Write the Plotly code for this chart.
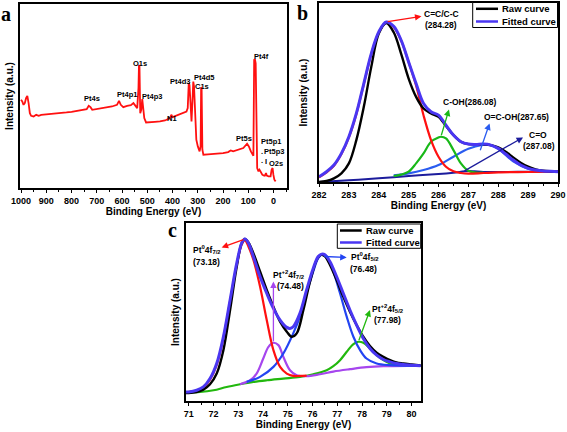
import plotly.graph_objects as go

# ---------------- Panel a: survey spectrum ----------------
a_be = [1000, 995, 990, 985, 980, 975, 970, 965, 960, 950, 940, 930, 920, 900, 880, 860, 840, 820, 800,
        780, 760, 740, 732, 725, 718, 700, 680, 660, 640, 620, 612, 605, 595, 580, 565, 555, 548, 540,
        535, 533, 531, 528, 524, 520, 517, 512, 505, 490, 470, 450, 430, 410, 405, 400, 380, 360, 345,
        340, 336, 333, 329, 325, 321, 318, 315, 311, 306, 300, 293, 289, 287, 285, 282, 278, 260, 240,
        220, 200, 180, 170, 160, 140, 120, 105, 98, 90, 84, 80, 77, 74, 71, 68, 65, 60, 56, 52, 45, 40,
        35, 30, 27, 20, 12, 8, 4, 1, -3, -8]
a_int = [265, 260, 250, 255, 270, 277, 255, 225, 217, 215, 220, 217, 220, 221, 222, 225, 225, 227, 229,
         231, 233, 237, 247, 243, 235, 237, 240, 243, 245, 250, 262, 250, 243, 247, 249, 255, 247, 240,
         300, 370, 365, 225, 235, 267, 245, 210, 197, 197, 199, 200, 203, 210, 220, 213, 220, 225, 230,
         240, 315, 310, 225, 200, 265, 320, 305, 225, 145, 125, 110, 125, 303, 300, 115, 100, 101, 102,
         103, 105, 108, 113, 110, 115, 120, 133, 125, 110, 100, 97, 385, 387, 375, 85, 60, 50, 55, 50,
         40, 38, 37, 45, 37, 35, 35, 55, 60, 40, 25, 20]
a_labels = ["O1s", "Pt4s", "Pt4p1", "Pt4p3", "N1", "Pt4d3", "Pt4d5", "C1s", "Pt4f", "Pt5s",
            "Pt5p1", "Pt5p3", "O2s", ".", ".", "I"]
a_label_be = [530, 718, 582, 481, 404, 372, 277, 283, 49, 119, 9, 0, -10, 47, 47, 29]
a_label_int = [375, 270, 280, 275, 208, 320, 332, 304, 395, 150, 140, 110, 75, 110, 83, 80]

# ---------------- Panel b: C1s ----------------
b_be = [282.0, 282.25, 282.5, 282.75, 283.0, 283.25, 283.5, 283.75, 284.0, 284.25, 284.5, 284.75,
        285.0, 285.25, 285.5, 285.75, 286.0, 286.25, 286.5, 286.75, 287.0, 287.25, 287.5, 287.75,
        288.0, 288.25, 288.5, 288.75, 289.0, 289.25, 289.5, 289.75, 290.0]
b_raw = [0, 3, 11, 26, 56, 126, 226, 346, 446, 478, 450, 385, 311, 256, 221, 206, 196, 168, 141, 121,
         114, 113, 113, 111, 104, 91, 74, 58, 46, 38, 34, 32, 31]
b_fit = [16, 31, 51, 86, 136, 206, 296, 386, 451, 481, 468, 426, 361, 296, 236, 211, 201, 171, 141, 121,
         114, 113, 114, 111, 101, 84, 66, 51, 41, 36, 33, 32, 31]
b_cc_be = [282.0, 282.25, 282.5, 282.75, 283.0, 283.25, 283.5, 283.75, 284.0, 284.25, 284.5, 284.75,
           285.0, 285.25, 285.5, 285.75, 286.0, 286.25, 286.5, 286.75, 287.0, 287.5, 288.0, 289.0, 290.0]
b_cc = [14, 29, 49, 84, 134, 204, 294, 384, 449, 480, 466, 425, 360, 290, 200, 126, 76, 46, 32, 27, 25,
        27, 29, 30, 31]
b_coh_be = [284.5, 284.75, 285.0, 285.25, 285.5, 285.75, 286.0, 286.08, 286.25, 286.5, 286.75, 287.0,
            287.25, 287.5]
b_coh = [18, 22, 31, 56, 86, 121, 134, 136, 131, 96, 56, 34, 28, 28]
b_ocoh_be = [284.5, 285.0, 285.5, 286.0, 286.5, 287.0, 287.5, 287.65, 288.0, 288.5, 289.0, 289.5, 290.0]
b_ocoh = [20, 26, 36, 51, 76, 100, 112, 113, 100, 62, 40, 32, 31]
b_co_be = [282.0, 283.0, 284.0, 285.0, 286.0, 286.5, 287.0, 287.2, 287.5, 288.0, 289.0, 290.0]
b_co = [0, 5, 11, 18, 24, 28, 33, 32, 30, 30, 31, 31]

# ---------------- Panel c: Pt4f ----------------
c_fit_be = [70.89, 71.0, 71.32, 71.59, 71.86, 72.13, 72.40, 72.67, 72.94, 73.14, 73.27, 73.41, 73.61,
            73.88, 74.15, 74.42, 74.69, 74.96, 75.09, 75.22, 75.49, 75.76, 76.03, 76.23, 76.37, 76.50,
            76.70, 76.97, 77.24, 77.51, 77.78, 78.05, 78.32, 78.59, 78.86, 79.13, 79.39, 79.66, 80.0, 80.36]
c_fit = [27, 27, 32, 42, 67, 112, 192, 302, 412, 472, 484, 472, 432, 372, 322, 277, 242, 220, 217, 222,
         262, 332, 397, 432, 439, 437, 417, 372, 322, 272, 227, 187, 157, 137, 124, 117, 112, 109, 107, 105]
c_raw_be = [70.89, 71.0, 71.32, 71.59, 71.86, 72.13, 72.40, 72.67, 72.94, 73.14, 73.27, 73.41, 73.61,
            73.88, 74.15, 74.42, 74.69, 74.96, 75.16, 75.36, 75.63, 75.90, 76.17, 76.33, 76.50, 76.70,
            76.97, 77.24, 77.51, 77.78, 78.05, 78.32, 78.59, 78.86, 79.13, 79.39, 79.66, 80.0, 80.36]
c_raw = [24, 24, 27, 34, 50, 82, 152, 272, 402, 472, 484, 474, 442, 387, 332, 282, 237, 207, 192, 202,
         272, 357, 422, 437, 432, 407, 362, 312, 267, 227, 192, 164, 144, 132, 122, 115, 112, 109, 106]
c_pt0_72_be = [70.89, 71.32, 71.59, 71.86, 72.13, 72.40, 72.67, 72.94, 73.14, 73.27, 73.41, 73.61,
               73.88, 74.15, 74.42, 74.69, 74.96, 75.22, 75.49, 75.76]
c_pt0_72 = [26, 31, 40, 64, 108, 188, 298, 408, 468, 480, 462, 422, 342, 242, 152, 102, 82, 75, 75, 76]
c_pt2_72_be = [73.07, 73.48, 73.74, 74.01, 74.22, 74.42, 74.62, 74.82, 75.09, 75.36, 75.76, 76.30,
               76.84, 77.51, 78.18, 78.86, 80.36]
c_pt2_72 = [50, 62, 82, 127, 162, 174, 167, 132, 92, 77, 74, 80, 88, 95, 101, 104, 106]
c_pt0_52_be = [73.34, 73.88, 74.42, 74.82, 75.22, 75.49, 75.76, 76.03, 76.23, 76.40, 76.57, 76.84,
               77.11, 77.38, 77.65, 77.92, 78.18, 78.59, 79.13, 80.36]
c_pt0_52 = [57, 72, 102, 142, 202, 252, 322, 387, 427, 439, 432, 387, 322, 252, 192, 152, 127, 112, 107, 105]
c_pt2_52_be = [70.89, 71.46, 72.0, 72.53, 73.07, 73.61, 74.15, 74.82, 75.49, 76.03, 76.57, 76.84, 77.11,
               77.38, 77.65, 77.85, 78.05, 78.32, 78.59, 78.86, 79.13, 79.53, 80.36]
c_pt2_52 = [26, 27, 32, 42, 50, 57, 62, 67, 72, 80, 92, 104, 122, 147, 170, 177, 174, 157, 137, 122,
            112, 107, 106]

legend_names = ["Raw curve", "Fitted curve"]

FONT = "Liberation Sans"
FIT = "#4a36f2"
RAW = "black"
fig = go.Figure()

# panel a
fig.add_trace(go.Scatter(x=a_be, y=a_int, mode="lines", line=dict(color="#ff1010", width=1.8),
                         xaxis="x", yaxis="y", showlegend=False))

def addl(x, y, color, width, n, name=None):
    fig.add_trace(go.Scatter(x=x, y=y, mode="lines", line=dict(color=color, width=width, shape="spline"),
                             xaxis="x" + n, yaxis="y" + n, name=name, showlegend=False))

# panel b
addl(b_co_be, b_co, "#1c1c9c", 2, "2")
addl(b_ocoh_be, b_ocoh, "#2a5cf0", 2.2, "2")
addl(b_coh_be, b_coh, "#18b818", 2.2, "2")
addl(b_cc_be, b_cc, "#ff1010", 2.2, "2")
addl(b_be, b_raw, RAW, 2.4, "2", legend_names[0])
addl(b_be, b_fit, FIT, 3, "2", legend_names[1])

# panel c
addl(c_pt2_52_be, c_pt2_52, "#22b80e", 2.2, "3")
addl(c_pt2_72_be, c_pt2_72, "#a646ee", 2.2, "3")
addl(c_pt0_52_be, c_pt0_52, "#2244f2", 2.2, "3")
addl(c_pt0_72_be, c_pt0_72, "#ff1010", 2.2, "3")
addl(c_raw_be, c_raw, RAW, 2.4, "3", legend_names[0])
addl(c_fit_be, c_fit, FIT, 3, "3", legend_names[1])

tickfont = dict(family=FONT, size=9, color="black", weight="bold")
titlefont = dict(family=FONT, size=10, color="black", weight="bold")

def xax(domain, anchor, rng, dtick, minor_dtick):
    return dict(domain=domain, anchor=anchor, range=rng, dtick=dtick, showline=True, mirror=True,
                linecolor="black", linewidth=1.5, ticks="outside", ticklen=3, tickwidth=1.2,
                tickcolor="black", tickfont=tickfont, showgrid=False, zeroline=False, automargin=False,
                minor=dict(dtick=minor_dtick, ticks="outside", ticklen=2, tickcolor="black"),
                title=dict(text="Binding Energy (eV)", font=titlefont, standoff=2))

def yax(domain, anchor, rng, standoff):
    return dict(domain=domain, anchor=anchor, range=rng, showline=True, mirror=True, linecolor="black",
                linewidth=1.5, showticklabels=False, ticks="", showgrid=False, zeroline=False,
                automargin=False,
                title=dict(text="Intensity (a.u.)", font=titlefont, standoff=standoff))

W, H = 567, 432
fig.update_layout(
    width=W, height=H, margin=dict(l=0, r=0, t=0, b=0, autoexpand=False),
    paper_bgcolor="white", plot_bgcolor="white", showlegend=False,
    xaxis=xax([20 / W, 287 / W], "y", [1004, -53], 100, 50),
    yaxis=yax([1 - 188 / H, 1 - 4 / H], "x", [0, 553], 3),
    xaxis2=xax([319 / W, 558 / W], "y2", [282, 290], 1, 0.5),
    yaxis2=yax([1 - 182 / H, 1 - 3 / H], "x2", [0, 538], 8),
    xaxis3=xax([186 / W, 421 / W], "y3", [70.89, 80.38], 1, 0.5),
    yaxis3=yax([1 - 401 / H, 1 - 223 / H], "x3", [0, 532], 3),
)

ann = []
shapes = []
lblfont = dict(family=FONT, size=7.5, color="black", weight="bold")
for t, xv, yv in zip(a_labels, a_label_be, a_label_int):
    ann.append(dict(x=xv, y=yv, xref="x", yref="y", text=t, showarrow=False, font=lblfont))

def arrow(xh, yh, xt, yt, color, ax):
    n = "" if ax == 1 else str(ax)
    ann.append(dict(x=xh, y=yh, ax=xt, ay=yt, xref="x" + n, yref="y" + n, axref="x" + n, ayref="y" + n,
                    text="", showarrow=True, arrowhead=2, arrowsize=1, arrowwidth=1.3, arrowcolor=color,
                    standoff=0, startstandoff=0))

def label(x, y, t, ax, size=8.5):
    n = "" if ax == 1 else str(ax)
    ann.append(dict(x=x, y=y, xref="x" + n, yref="y" + n, text=t, showarrow=False,
                    font=dict(family=FONT, size=size, color="black", weight="bold")))

# panel b annotations
arrow(285.43, 498, 284.25, 481, "#ff1010", 2)
label(286.1, 506, "C=C/C-C", 2)
label(286.1, 471, "(284.28)", 2)
arrow(286.35, 218, 286.08, 136, "#18b818", 2)
label(287.04, 239, "C-OH(286.08)", 2)
arrow(287.71, 176, 287.38, 91, "#2a5cf0", 2)
label(288.6, 194, "O=C-OH(287.65)", 2)
arrow(288.83, 134, 286.82, 31, "#1c1c9c", 2)
label(289.33, 140, "C=O", 2)
label(289.37, 109, "(287.08)", 2)

# panel c annotations
arrow(72.33, 459, 73.27, 484, "#ff1010", 3)
label(71.73, 452, "Pt<sup>0</sup>4f<sub>7/2</sub>", 3)
label(71.7, 414, "(73.18)", 3)
arrow(74.42, 357, 74.42, 174, "#a646ee", 3)
label(75.05, 377, "Pt<sup>+2</sup>4f<sub>7/2</sub>", 3)
label(75.12, 344, "(74.48)", 3)
arrow(77.38, 429, 76.41, 432, "#2244f2", 3)
label(78.12, 432, "Pt<sup>0</sup>4f<sub>5/2</sub>", 3)
label(78.05, 394, "(76.48)", 3)
arrow(78.32, 272, 77.85, 177, "#22b80e", 3)
label(79.06, 277, "Pt<sup>+2</sup>4f<sub>5/2</sub>", 3)
label(79.02, 242, "(77.98)", 3)

# hand-placed legends (box, line samples, names)
legfont = dict(family=FONT, size=9.5, color="black", weight="bold")
for (bx0, by0, bx1, by1, lx0, lx1, tx, rows) in [
        (472.7, 2.5, 557.5, 27.5, 476, 498, 500, (8.8, 21.5)),
        (337.3, 224, 420.7, 248.3, 340, 361.7, 364, (230.5, 242.5))]:
    shapes.append(dict(type="rect", xref="paper", yref="paper", x0=bx0 / W, x1=bx1 / W,
                       y0=1 - by1 / H, y1=1 - by0 / H, line=dict(color="black", width=1),
                       fillcolor="white", layer="above"))
    for name, color, ry in zip(legend_names, [RAW, FIT], rows):
        shapes.append(dict(type="line", xref="paper", yref="paper", x0=lx0 / W, x1=lx1 / W,
                           y0=1 - ry / H, y1=1 - ry / H, line=dict(color=color, width=2.5), layer="above"))
        ann.append(dict(x=tx / W, y=1 - ry / H, xref="paper", yref="paper", text=name, showarrow=False,
                        xanchor="left", yanchor="middle", font=legfont))

# panel letters
for t, px, py in [("a", 6, 14), ("b", 302, 13), ("c", 172, 230)]:
    ann.append(dict(x=px / W, y=1 - py / H, xref="paper", yref="paper", text=t, showarrow=False,
                    xanchor="center", yanchor="middle",
                    font=dict(family="Liberation Serif", size=20, color="black", weight="bold")))

fig.update_layout(annotations=ann, shapes=shapes)
fig.write_html("out.html", config={"displayModeBar": False},
               post_script="document.body.style.margin='0';document.body.style.padding='0';"
                           "document.body.style.overflow='hidden';")
